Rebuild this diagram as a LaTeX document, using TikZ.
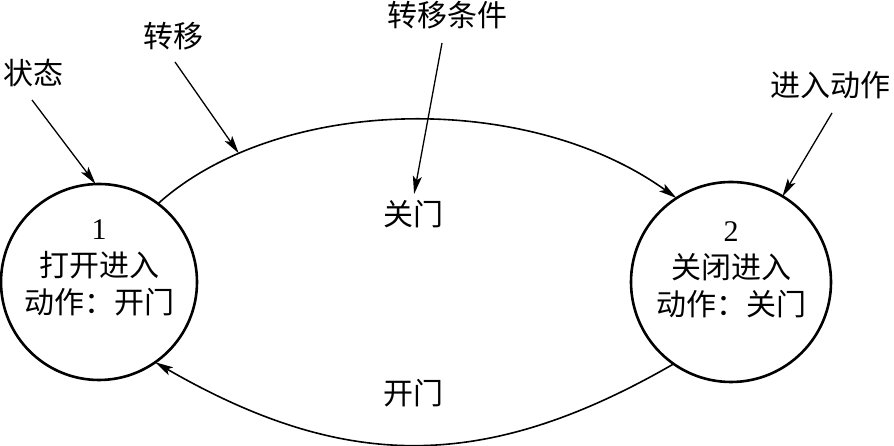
\documentclass[tikz,border=0pt]{standalone}
\usepackage{fontspec}
\setmainfont{Liberation Serif}
\newfontfamily\cjk{Noto Sans CJK SC}
\usetikzlibrary{arrows.meta}
\begin{document}
\begin{tikzpicture}[x=1pt,y=1pt,
  statenode/.style={circle,draw,line width=2.6pt,inner sep=0pt,outer sep=0pt},
  lbl/.style={font=\cjk\fontsize{30}{36}\selectfont,inner sep=0pt},
  inner/.style={align=center,font=\cjk\fontsize{30}{37}\selectfont,inner sep=0pt},
  trans/.style={line width=1.6pt,-{Stealth[length=18pt,width=9pt,inset=4pt]}},
  pointer/.style={line width=1.3pt,-{Stealth[length=18pt,width=9pt,inset=4pt]}}]
\useasboundingbox (0,0) rectangle (894,446);
% states
\node[statenode,minimum size=196pt] (c1) at (99,164) {};
\node[statenode,minimum size=200pt] (c2) at (731,164) {};
\node[inner] (t1) at (99,178) {{\rmfamily 1}\\打开进入\\动作：开门};
\node[inner] (t2) at (731,176) {{\rmfamily 2}\\关闭进入\\动作：关门};
% labels
\node[lbl] (zt) at (33,373) {状态};
\node[lbl] (zy) at (173,410) {转移};
\node[lbl] (zytj) at (447,431) {转移条件};
\node[lbl] (jrdz) at (830,361) {进入动作};
\node[lbl] (gm) at (413,232) {关门};
\node[lbl] (km) at (413,53) {开门};
% transitions
\draw[trans] (c1.53) .. controls +(120,108) and +(-150,108) .. coordinate[pos=0.19] (onarc) (c2.123);
\draw[trans] (c2.235) .. controls +(-189,-109) and +(189,-109) .. (c1.305);
% pointer arrows
\coordinate (s1) at (32,346);
\coordinate (s2) at (175,384);
\coordinate (s3) at (442,403);
\coordinate (s4) at (832,333);
\draw[pointer] (s1) -- (c1.92);
\draw[pointer] (s2) -- (onarc);
\draw[pointer,shorten >=6pt] (s3) -- (gm.north);
\draw[pointer] (s4) -- (c2.59);
\end{tikzpicture}
\end{document}
